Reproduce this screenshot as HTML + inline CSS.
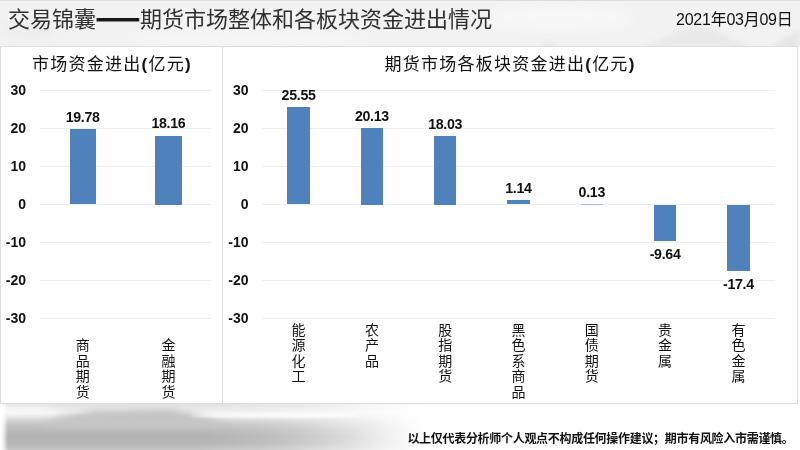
<!DOCTYPE html>
<html lang="zh-CN">
<head>
<meta charset="utf-8">
<title>交易锦囊——期货市场整体和各板块资金进出情况</title>
<style>
html,body{margin:0;padding:0;}
body{width:800px;height:450px;overflow:hidden;position:relative;background:#fff;font-family:"Liberation Sans","Noto Sans CJK SC",sans-serif;color:#000;}
.abs{position:absolute;}
#hdr{left:0;top:0;width:800px;height:47px;background:#f1f1f1;border-top:1px solid #dcdcdc;box-sizing:border-box;}
#title{left:8px;top:2px;font-size:22px;line-height:30px;color:#303030;font-weight:400;white-space:nowrap;letter-spacing:0;}
#title span{font-family:"Noto Sans CJK SC",sans-serif;font-weight:900;color:#1a1a1a;-webkit-text-stroke:1.2px #1a1a1a;position:relative;top:-1.5px;display:inline-block;width:44px;text-align:center;transform:scaleX(1.16);}
#date{right:7.5px;top:9px;font-size:16px;line-height:22px;color:#111;white-space:nowrap;letter-spacing:-0.25px;}
.panel{background:#fff;border:1px solid #dcdcdc;box-sizing:border-box;}
.ct{font-size:17px;line-height:22px;white-space:nowrap;letter-spacing:1.25px;color:#111;text-align:center;}
.grid{height:1px;background:#eeeeee;}
.yl{font-weight:bold;font-size:14px;line-height:16px;width:30px;text-align:right;color:#111;}
.bar{background:#4f81bd;}
.dl{font-weight:bold;font-size:14.2px;letter-spacing:-0.3px;line-height:16px;width:60px;text-align:center;color:#111;white-space:nowrap;}
.cl{font-size:14px;line-height:15.6px;width:20px;text-align:center;color:#111;}
#foot{right:6.5px;top:429.5px;font-size:12px;line-height:18px;font-weight:bold;white-space:nowrap;letter-spacing:-0.3px;color:#111;}
</style>
</head>
<body>
<div class="abs" id="hdr"></div>
<svg class="abs" style="left:0;top:1px" width="800" height="45" viewBox="0 1 800 45">
<defs>
<filter id="hb" x="-30%" y="-60%" width="160%" height="220%"><feGaussianBlur stdDeviation="2.5"/></filter>
<filter id="hc" x="-30%" y="-60%" width="160%" height="220%"><feGaussianBlur stdDeviation="6"/></filter>
</defs>
<rect x="0" y="1" width="800" height="45" fill="#f2f2f2"/>
<ellipse cx="560" cy="18" rx="70" ry="12" fill="#f8f8f8" filter="url(#hc)"/>
<ellipse cx="250" cy="40" rx="120" ry="6" fill="#f7f7f7" filter="url(#hc)"/>
<polygon points="636,48 662,39 690,25 712,28 735,40 760,48" fill="#e3e3e3" opacity="0.55" filter="url(#hb)"/>
<polygon points="768,48 800,30 800,48" fill="#dedede" opacity="0.55" filter="url(#hb)"/>
<ellipse cx="549" cy="45" rx="7" ry="2.5" fill="#dcdcdc" opacity="0.5" filter="url(#hb)"/>
<ellipse cx="30" cy="30" rx="30" ry="10" fill="#ededed" filter="url(#hc)"/>
</svg>
<div class="abs" id="title">交易锦囊<span>——</span>期货市场整体和各板块资金进出情况</div>
<div class="abs" id="date">2021年03月09日</div>
<svg class="abs" style="left:0;top:404px" width="800" height="46" viewBox="0 404 800 46">
<defs>
<filter id="b3" x="-20%" y="-100%" width="140%" height="300%"><feGaussianBlur stdDeviation="3"/></filter>
<filter id="b2" x="-20%" y="-100%" width="140%" height="300%"><feGaussianBlur stdDeviation="1.8"/></filter>
<linearGradient id="hm" x1="0" x2="800" y1="0" y2="0" gradientUnits="userSpaceOnUse"><stop offset="0.0000" stop-color="#000000"/><stop offset="0.0037" stop-color="#262626"/><stop offset="0.0100" stop-color="#ffffff"/><stop offset="0.2500" stop-color="#ffffff"/><stop offset="0.2750" stop-color="#f5f5f5"/><stop offset="0.3250" stop-color="#e0e0e0"/><stop offset="0.3750" stop-color="#b8b8b8"/><stop offset="0.4250" stop-color="#808080"/><stop offset="0.4750" stop-color="#3d3d3d"/><stop offset="0.5125" stop-color="#121212"/><stop offset="0.5350" stop-color="#000000"/></linearGradient>
<linearGradient id="vg" x1="0" x2="0" y1="404" y2="450" gradientUnits="userSpaceOnUse"><stop offset="0.0000" stop-color="#e2e2e2"/><stop offset="0.1087" stop-color="#e9e9e9"/><stop offset="0.1957" stop-color="#f1f1f1"/><stop offset="0.3043" stop-color="#dcdcdc"/><stop offset="0.4348" stop-color="#c8c7c7"/><stop offset="0.5652" stop-color="#bbb9ba"/><stop offset="0.7174" stop-color="#b3b1b2"/><stop offset="0.8478" stop-color="#b6b5b5"/><stop offset="0.9348" stop-color="#bebdbd"/><stop offset="1.0000" stop-color="#c8c8c8"/></linearGradient>
<mask id="mk" maskUnits="userSpaceOnUse" x="0" y="400" width="800" height="60"><rect x="0" y="400" width="800" height="60" fill="url(#hm)"/></mask>
</defs>
<rect x="0" y="404" width="800" height="46" fill="#fff"/>
<g mask="url(#mk)">
<rect x="0" y="404" width="800" height="46" fill="url(#vg)"/>
<polygon points="55,419 95,410 172,409 200,415 230,426 45,426" fill="#c6c5c5" filter="url(#b3)"/>
<ellipse cx="275" cy="415.5" rx="85" ry="2.2" fill="#fff" opacity="0.9" filter="url(#b2)"/>
<ellipse cx="22" cy="411" rx="36" ry="4" fill="#fff" opacity="0.7" filter="url(#b3)"/>
</g>
</svg>
<div class="abs panel" style="left:0;top:46px;width:223px;height:358px"></div>
<div class="abs panel" style="left:222px;top:46px;width:576px;height:358px"></div>
<div class="abs ct" style="left:12px;width:200px;top:54px">市场资金进出<b>(</b>亿元<b>)</b></div>
<div class="abs ct" style="left:360px;width:300px;top:54px">期货市场各板块资金进出<b>(</b>亿元<b>)</b></div>

<div class="abs grid" style="left:40px;width:171px;top:90.0px"></div>
<div class="abs yl" style="left:-4px;top:81.7px">30</div>
<div class="abs grid" style="left:40px;width:171px;top:128.0px"></div>
<div class="abs yl" style="left:-4px;top:119.7px">20</div>
<div class="abs grid" style="left:40px;width:171px;top:166.0px"></div>
<div class="abs yl" style="left:-4px;top:157.7px">10</div>
<div class="abs grid" style="left:40px;width:171px;top:204.0px"></div>
<div class="abs yl" style="left:-4px;top:195.7px">0</div>
<div class="abs grid" style="left:40px;width:171px;top:242.0px"></div>
<div class="abs yl" style="left:-4px;top:233.7px">-10</div>
<div class="abs grid" style="left:40px;width:171px;top:280.0px"></div>
<div class="abs yl" style="left:-4px;top:271.7px">-20</div>
<div class="abs grid" style="left:40px;width:171px;top:318.0px"></div>
<div class="abs yl" style="left:-4px;top:309.7px">-30</div>
<div class="abs bar" style="left:69.5px;width:26.5px;top:129.3px;height:75.2px"></div>
<div class="abs dl" style="left:52.7px;top:108.8px">19.78</div>
<div class="abs cl" style="left:72.7px;top:338px">商<br>品<br>期<br>货</div>
<div class="abs bar" style="left:155.2px;width:26.5px;top:135.5px;height:69.0px"></div>
<div class="abs dl" style="left:138.4px;top:115.0px">18.16</div>
<div class="abs cl" style="left:158.4px;top:338px">金<br>融<br>期<br>货</div>
<div class="abs grid" style="left:262px;width:513px;top:90.0px"></div>
<div class="abs yl" style="left:218.5px;top:81.7px">30</div>
<div class="abs grid" style="left:262px;width:513px;top:128.0px"></div>
<div class="abs yl" style="left:218.5px;top:119.7px">20</div>
<div class="abs grid" style="left:262px;width:513px;top:166.0px"></div>
<div class="abs yl" style="left:218.5px;top:157.7px">10</div>
<div class="abs grid" style="left:262px;width:513px;top:204.0px"></div>
<div class="abs yl" style="left:218.5px;top:195.7px">0</div>
<div class="abs grid" style="left:262px;width:513px;top:242.0px"></div>
<div class="abs yl" style="left:218.5px;top:233.7px">-10</div>
<div class="abs grid" style="left:262px;width:513px;top:280.0px"></div>
<div class="abs yl" style="left:218.5px;top:271.7px">-20</div>
<div class="abs grid" style="left:262px;width:513px;top:318.0px"></div>
<div class="abs yl" style="left:218.5px;top:309.7px">-30</div>
<div class="abs bar" style="left:287.3px;width:22.6px;top:107.4px;height:97.1px"></div>
<div class="abs dl" style="left:268.6px;top:86.9px">25.55</div>
<div class="abs cl" style="left:288.6px;top:322.5px">能<br>源<br>化<br>工</div>
<div class="abs bar" style="left:360.6px;width:22.6px;top:128.0px;height:76.5px"></div>
<div class="abs dl" style="left:341.9px;top:107.5px">20.13</div>
<div class="abs cl" style="left:361.9px;top:322.5px">农<br>产<br>品</div>
<div class="abs bar" style="left:433.9px;width:22.6px;top:136.0px;height:68.5px"></div>
<div class="abs dl" style="left:415.2px;top:115.5px">18.03</div>
<div class="abs cl" style="left:435.2px;top:322.5px">股<br>指<br>期<br>货</div>
<div class="abs bar" style="left:507.2px;width:22.6px;top:200.2px;height:4.3px"></div>
<div class="abs dl" style="left:488.5px;top:179.7px">1.14</div>
<div class="abs cl" style="left:508.5px;top:322.5px">黑<br>色<br>系<br>商<br>品</div>
<div class="abs bar" style="left:580.5px;width:22.6px;top:203.5px;height:1px;opacity:0.45"></div>
<div class="abs dl" style="left:561.8px;top:183.5px">0.13</div>
<div class="abs cl" style="left:581.8px;top:322.5px">国<br>债<br>期<br>货</div>
<div class="abs bar" style="left:653.8px;width:22.6px;top:204.5px;height:36.6px"></div>
<div class="abs dl" style="left:635.1px;top:246.1px">-9.64</div>
<div class="abs cl" style="left:655.1px;top:322.5px">贵<br>金<br>属</div>
<div class="abs bar" style="left:727.1px;width:22.6px;top:204.5px;height:66.1px"></div>
<div class="abs dl" style="left:708.4px;top:275.6px">-17.4</div>
<div class="abs cl" style="left:728.4px;top:322.5px">有<br>色<br>金<br>属</div>
<div class="abs" id="foot">以上仅代表分析师个人观点不构成任何操作建议；期市有风险入市需谨慎。</div>
</body>
</html>
